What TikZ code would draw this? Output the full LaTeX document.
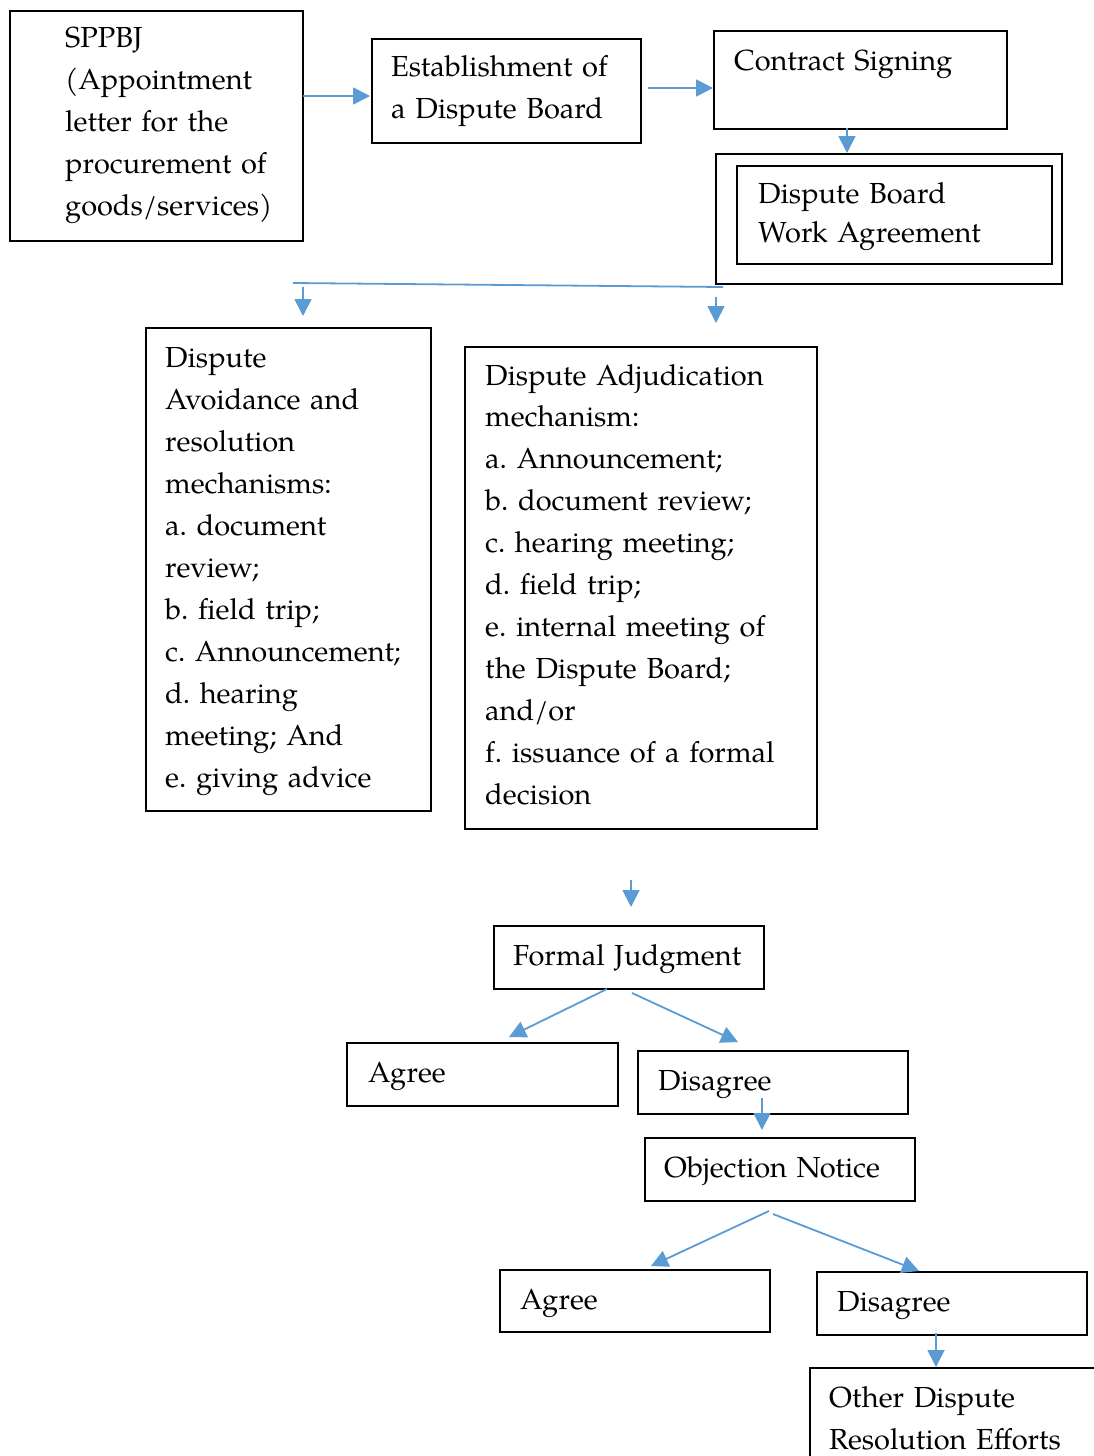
\documentclass[tikz,border=0pt]{standalone}
\usepackage{fontspec}
\setmainfont{TeX Gyre Pagella}
\usetikzlibrary{arrows.meta}
\definecolor{arr}{HTML}{5B9BD5}
\frenchspacing
\begin{document}
\begin{tikzpicture}[x=1pt,y=-1pt,
  box/.style={draw=black, line width=1.8pt, rectangle, inner sep=0pt, anchor=north west},
  txt/.style={anchor=base west, inner sep=0pt, align=left, text width=420pt, font=\fontsize{29}{42}\selectfont\frenchspacing},
  conn/.style={draw=arr, line width=1.8pt},
  arrow/.style={conn, -{Triangle[length=17pt,width=17pt]}}]
\useasboundingbox (0,0) rectangle (1093,1456);
% boxes
\node[box, minimum width=293pt, minimum height=230pt] (b1) at (9,10) {};
\node[box, minimum width=269pt, minimum height=104pt] (b2) at (371,38) {};
\node[box, minimum width=293pt, minimum height=98pt] (b3) at (713,30) {};
\node[box, minimum width=346pt, minimum height=130pt] (b4o) at (715,153) {};
\node[box, minimum width=315pt, minimum height=98pt] (b4) at (736,165) {};
\node[box, minimum width=285pt, minimum height=483pt] (b5) at (145,327) {};
\node[box, minimum width=352pt, minimum height=482pt] (b6) at (464,346) {};
\node[box, minimum width=270pt, minimum height=63pt] (b7) at (493,925) {};
\node[box, minimum width=271pt, minimum height=63pt] (b8) at (346,1042) {};
\node[box, minimum width=270pt, minimum height=63pt] (b9) at (637,1050) {};
\node[box, minimum width=270pt, minimum height=63pt] (b10) at (644,1137) {};
\node[box, minimum width=270pt, minimum height=62pt] (b11) at (499,1269) {};
\node[box, minimum width=270pt, minimum height=63pt] (b12) at (816,1271) {};
\node[box, minimum width=300pt, minimum height=110pt] (b13) at (809,1367) {};
% texts
\node[txt] (t1) at (65,47) {SPPBJ\\(Appointment\\letter for the\\procurement of\\goods/services)};
\node[txt] (t2) at (391,76) {Establishment of\\a Dispute Board};
\node[txt] (t3) at (734,70) {Contract Signing};
\node[txt, font=\fontsize{29}{39}\selectfont] (t4) at (758,203) {Dispute Board\\Work Agreement};
\node[txt] (t5) at (165,367) {Dispute\\Avoidance and\\resolution\\mechanisms:\\a. document\\review;\\b. field trip;\\c. Announcement;\\d. hearing\\meeting; And\\e. giving advice};
\node[txt, font=\fontsize{29}{41.9}\selectfont\frenchspacing] (t6) at (485,385) {Dispute Adjudication\\mechanism:\\a. Announcement;\\b. document review;\\c. hearing meeting;\\d. field trip;\\e. internal meeting of\\the Dispute Board;\\and/or\\f. issuance of a formal\\decision};
\node[txt] (t7) at (513,965) {Formal Judgment};
\node[txt] (t8) at (368,1082) {Agree};
\node[txt] (t9) at (658,1090) {Disagree};
\node[txt] (t10) at (664,1177) {Objection Notice};
\node[txt] (t11) at (520,1309) {Agree};
\node[txt] (t12) at (837,1311) {Disagree};
\node[txt] (t13) at (829,1407) {Other Dispute\\Resolution Efforts};
% connector coordinates
\coordinate (a1s) at (303,96);   \coordinate (a1e) at (370,96);
\coordinate (a2s) at (648,88);   \coordinate (a2e) at (713,88);
\coordinate (a3s) at (847,128);  \coordinate (a3e) at (847,153);
\coordinate (ls) at (293,283);   \coordinate (le) at (723,287);
\coordinate (a4s) at (303,287);  \coordinate (a4e) at (303,316);
\coordinate (a5s) at (716,297);  \coordinate (a5e) at (716,323);
\coordinate (a6s) at (631,880);  \coordinate (a6e) at (631,907);
\coordinate (a7s) at (607,989);  \coordinate (a7e) at (509,1037);
\coordinate (a8s) at (632,993);  \coordinate (a8e) at (738,1042);
\coordinate (a9s) at (762,1098); \coordinate (a9e) at (762,1130);
\coordinate (a10s) at (769,1211); \coordinate (a10e) at (651,1266);
\coordinate (a11s) at (773,1214); \coordinate (a11e) at (919,1271);
\coordinate (a12s) at (936,1333); \coordinate (a12e) at (936,1367);
% connectors
\draw[arrow] (a1s) -- (a1e);
\draw[arrow] (a2s) -- (a2e);
\draw[arrow] (a3s) -- (a3e);
\draw[conn] (ls) -- (le);
\draw[arrow] (a4s) -- (a4e);
\draw[arrow] (a5s) -- (a5e);
\draw[arrow] (a6s) -- (a6e);
\draw[arrow] (a7s) -- (a7e);
\draw[arrow] (a8s) -- (a8e);
\draw[arrow] (a9s) -- (a9e);
\draw[arrow] (a10s) -- (a10e);
\draw[arrow] (a11s) -- (a11e);
\draw[arrow] (a12s) -- (a12e);
\end{tikzpicture}
\end{document}
